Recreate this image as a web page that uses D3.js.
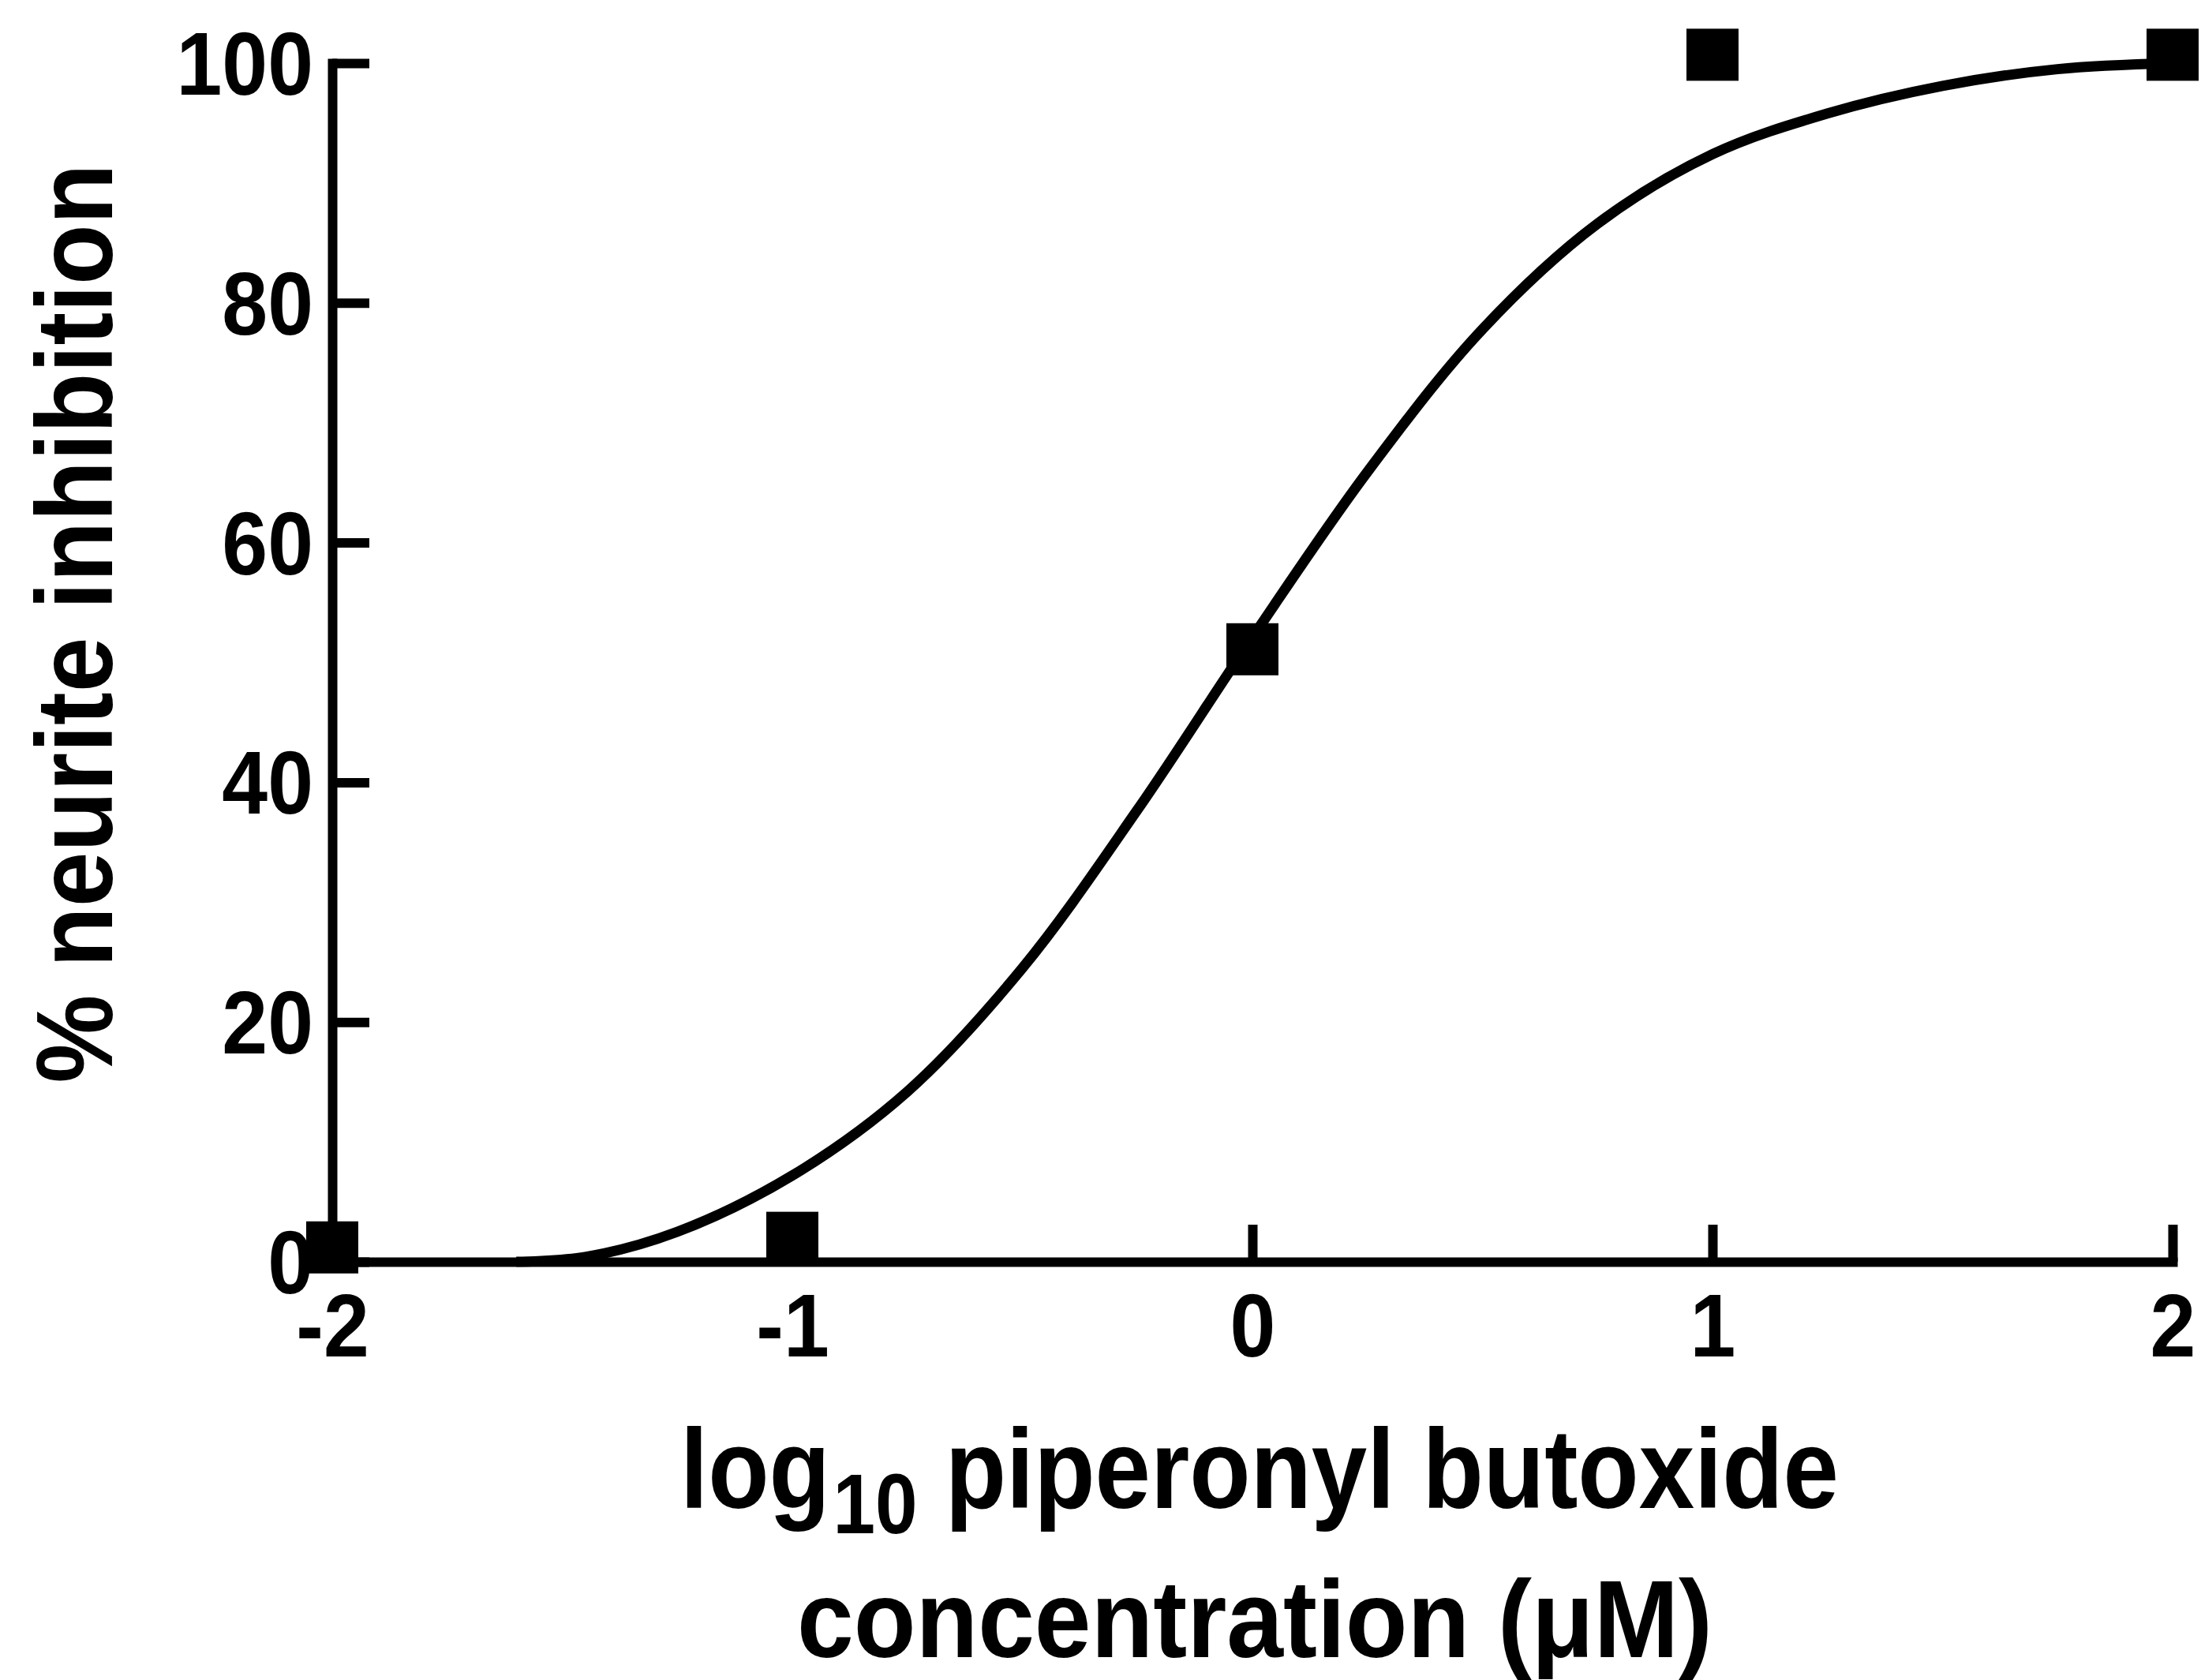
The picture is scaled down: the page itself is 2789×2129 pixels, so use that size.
<!DOCTYPE html>
<html>
<head>
<meta charset="utf-8">
<script src="https://cdn.jsdelivr.net/npm/d3@7"></script>
<style>
  html, body { margin: 0; padding: 0; background: #fff; }
  svg { display: block; }
  text { font-family: "Liberation Sans", Arial, Helvetica, sans-serif; font-weight: bold; fill: #000; }
</style>
</head>
<body>
<script>
// Measured responses: log10 concentration (µM) vs % neurite inhibition
const logConc = [-2, -1, 0, 1, 2];
const inhibition = [1.2, 2.0, 51.1, 100.7, 100.7];

// Fitted dose-response curve, sampled along its length
const fitLogConc = [-1.6, -1.45, -1.25, -1.0, -0.75, -0.5, -0.25, 0, 0.25, 0.5, 0.75, 1.0, 1.25, 1.5, 1.75, 2.0];
const fitInhibition = [0, 0.4, 2.5, 7.2, 14.2, 24.5, 37.7, 52.1, 65.9, 77.8, 86.6, 92.4, 95.8, 98.1, 99.5, 100.0];

const xTickValues = [-2, -1, 0, 1, 2];
const yTickValues = [0, 20, 40, 60, 80, 100];
const xTickLabels = ["-2", "-1", "0", "1", "2"];

const W = 2789, H = 2129;
const svg = d3.select("body").append("svg").attr("width", W).attr("height", H);
svg.append("rect").attr("width", W).attr("height", H).attr("fill", "#fff");

const x = d3.scaleLinear().domain([-2, 2]).range([421, 2753]);
const y = d3.scaleLinear().domain([0, 100]).range([1599, 80]);

const STROKE = 12;

// squeeze text horizontally to a narrower, condensed look
function condense(sel, factor) {
  sel.each(function () {
    const w = this.getComputedTextLength();
    d3.select(this).attr("textLength", w * factor).attr("lengthAdjust", "spacingAndGlyphs");
  });
}

// Y axis (ticks point inward)
const yAxis = svg.append("g")
  .attr("transform", `translate(${x(-2)},0)`)
  .call(d3.axisLeft(y).tickValues(yTickValues).tickSize(-47).tickSizeOuter(0).tickPadding(24));
yAxis.select(".domain").attr("stroke-width", STROKE).attr("stroke-linecap", "square");
yAxis.selectAll(".tick line").attr("stroke-width", STROKE);
yAxis.selectAll(".tick text").attr("font-size", 113).attr("font-family", null).attr("dy", "0.35em");
condense(yAxis.selectAll(".tick text"), 0.92);

// X axis (ticks point inward)
const xAxis = svg.append("g")
  .attr("transform", `translate(0,${y(0)})`)
  .call(d3.axisBottom(x).tickValues(xTickValues).tickFormat((d, i) => xTickLabels[i])
    .tickSize(-47).tickSizeOuter(0).tickPadding(40));
xAxis.select(".domain").attr("stroke-width", STROKE).attr("stroke-linecap", "square");
xAxis.selectAll(".tick line").attr("stroke-width", STROKE);
xAxis.selectAll(".tick text").attr("font-size", 113).attr("font-family", null);
condense(xAxis.selectAll(".tick text"), 0.92);

// fitted curve
const fit = fitLogConc.map((v, i) => [v, fitInhibition[i]]);
svg.append("path")
  .datum(fit)
  .attr("fill", "none")
  .attr("stroke", "#000")
  .attr("stroke-width", 13)
  .attr("stroke-linejoin", "round")
  .attr("d", d3.line().x(d => x(d[0])).y(d => y(d[1])).curve(d3.curveCatmullRom.alpha(0.5)));

// data points as filled squares
const S = 66;
svg.append("g").selectAll("rect")
  .data(logConc.map((v, i) => [v, inhibition[i]]))
  .join("rect")
  .attr("x", d => x(d[0]) - S / 2)
  .attr("y", d => y(d[1]) - S / 2)
  .attr("width", S)
  .attr("height", S)
  .attr("fill", "#000");

// Y axis title
svg.append("text")
  .attr("transform", "translate(142,790) rotate(-90)")
  .attr("text-anchor", "middle")
  .attr("font-size", 137)
  .attr("textLength", 1165).attr("lengthAdjust", "spacingAndGlyphs")
  .text("% neurite inhibition");

// X axis title, first line with subscript, condensed as a group
const line1 = svg.append("g");
const xt1 = line1.append("text")
  .attr("x", 0).attr("y", 0)
  .attr("text-anchor", "middle")
  .attr("font-size", 142);
xt1.append("tspan").text("log");
xt1.append("tspan").attr("font-size", 108).attr("dx", 4).attr("dy", 32).text("10");
xt1.append("tspan").attr("dy", -32).text(" piperonyl butoxide");
const w1 = xt1.node().getBBox().width;
line1.attr("transform", `translate(1596,1911) scale(${1468 / w1},1)`);

// second line
svg.append("text")
  .attr("x", 1590).attr("y", 2100)
  .attr("text-anchor", "middle")
  .attr("font-size", 140)
  .attr("textLength", 1160).attr("lengthAdjust", "spacingAndGlyphs")
  .text("concentration (\u03bcM)");
</script>
</body>
</html>
